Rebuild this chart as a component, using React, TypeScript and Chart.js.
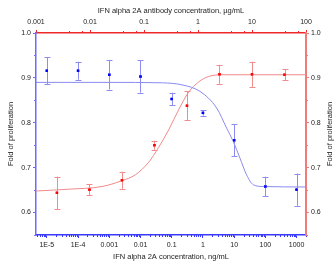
import React, { useEffect, useRef } from "react";
import { Chart, registerables } from "chart.js";

Chart.register(...registerables);

// ---- data (bottom axis: ng/mL, blue) ----
const blueX = [1e-5, 1e-4, 1e-3, 1e-2, 0.1, 1, 10, 100, 1000];
const blueY = [0.916, 0.916, 0.907, 0.903, 0.853, 0.822, 0.761, 0.658, 0.651];
const blueErr = [0.03, 0.02, 0.033, 0.036, 0.014, 0.006, 0.036, 0.022, 0.036];
// fitted curve
const blueCurveX = [4.5e-6, 1e-3, 0.05, 0.23, 0.8, 2.75, 5.75, 9.4, 15.4, 25, 41, 85, 2000];
const blueCurveY = [0.89, 0.89, 0.889, 0.884, 0.87, 0.833, 0.788, 0.758, 0.721, 0.684, 0.662, 0.658, 0.657];

// ---- data (top axis: µg/mL, red) ----
const redX = [0.00244, 0.00977, 0.0391, 0.156, 0.625, 2.5, 10, 40];
const redY = [0.644, 0.651, 0.672, 0.75, 0.838, 0.908, 0.908, 0.907];
const redErr = [0.036, 0.012, 0.019, 0.01, 0.032, 0.021, 0.028, 0.012];
const redCurveX = [0.001, 0.004, 0.0167, 0.039, 0.069, 0.122, 0.186, 0.286, 0.438, 0.67, 1.03, 1.57, 2.78, 100];
const redCurveY = [0.648, 0.652, 0.658, 0.671, 0.684, 0.712, 0.745, 0.784, 0.829, 0.868, 0.891, 0.903, 0.907, 0.907];

// ---- ticks ----
const xTickValues = [1e-5, 1e-4, 1e-3, 1e-2, 0.1, 1, 10, 100, 1000];
const xTickLabels = ["1E-5", "1E-4", "0.001", "0.01", "0.1", "1", "10", "100", "1000"];
const x2TickValues = [0.001, 0.01, 0.1, 1, 10, 100];
const x2TickLabels = ["0.001", "0.01", "0.1", "1", "10", "100"];
const yTickValues = [0.6, 0.7, 0.8, 0.9, 1.0];
const yTickLabels = ["0.6", "0.7", "0.8", "0.9", "1.0"];
const xMinorMult = [2, 3, 4, 5, 6, 7, 8, 9];
const x2MinorMult = [4, 7];
const yMinorTicks = [0.55, 0.65, 0.75, 0.85, 0.95];

const xTitle = "IFN alpha 2A concentration, ng/mL";
const x2Title = "IFN alpha 2A antibody concentration, µg/mL";
const yTitle = "Fold of proliferation";

const FONT = "'Liberation Sans', Arial, sans-serif";
const BLUE_AXIS = "#3a3aff";
const BLUE_LEFT = "#6a6aff";
const RED_TOP = "#ee2a2a";
const RED_RIGHT = "#f47a7a";

const errorBarPlugin = {
  id: "errorBars",
  afterDatasetsDraw(chart: any) {
    const ctx = chart.ctx;
    const ys = chart.scales.y;
    chart.data.datasets.forEach((ds: any, i: number) => {
      if (!ds.errors) return;
      const meta = chart.getDatasetMeta(i);
      ctx.save();
      ctx.strokeStyle = ds.errColor;
      ctx.lineWidth = 1;
      meta.data.forEach((el: any, j: number) => {
        const v = ds.data[j].y;
        const e = ds.errors[j];
        const x = Math.round(el.x) + 0.5;
        const y1 = ys.getPixelForValue(v + e);
        const y2 = ys.getPixelForValue(v - e);
        ctx.beginPath();
        ctx.moveTo(x, y1);
        ctx.lineTo(x, y2);
        ctx.moveTo(x - 3, Math.round(y1) + 0.5);
        ctx.lineTo(x + 3, Math.round(y1) + 0.5);
        ctx.moveTo(x - 3, Math.round(y2) + 0.5);
        ctx.lineTo(x + 3, Math.round(y2) + 0.5);
        ctx.stroke();
      });
      ctx.restore();
      // redraw points on top
      meta.data.forEach((el: any) => el.draw(ctx, chart.chartArea));
    });
  },
};

const minorTicksPlugin = {
  id: "minorTicks",
  afterDraw(chart: any) {
    const ctx = chart.ctx;
    const { top, bottom, left, right } = chart.chartArea;
    const xs = chart.scales.x;
    const x2s = chart.scales.x2;
    const ys = chart.scales.y;
    ctx.save();
    ctx.lineWidth = 1;
    // bottom minor
    ctx.strokeStyle = BLUE_AXIS;
    ctx.beginPath();
    for (let d = -6; d <= 3; d++) {
      xMinorMult.forEach((m) => {
        const v = m * Math.pow(10, d);
        if (v < xs.min || v > xs.max) return;
        const px = Math.round(xs.getPixelForValue(v)) + 0.5;
        ctx.moveTo(px, bottom);
        ctx.lineTo(px, bottom + 2);
      });
    }
    ctx.stroke();
    // top minor
    ctx.strokeStyle = RED_TOP;
    ctx.beginPath();
    for (let d = -3; d <= 2; d++) {
      x2MinorMult.forEach((m) => {
        const v = m * Math.pow(10, d);
        if (v < x2s.min || v > x2s.max) return;
        const px = Math.round(x2s.getPixelForValue(v)) + 0.5;
        ctx.moveTo(px, top);
        ctx.lineTo(px, top - 2);
      });
    }
    ctx.stroke();
    // left/right minor
    ctx.strokeStyle = BLUE_LEFT;
    ctx.beginPath();
    yMinorTicks.forEach((v) => {
      const py = Math.round(ys.getPixelForValue(v)) + 0.5;
      ctx.moveTo(left, py);
      ctx.lineTo(left - 2, py);
    });
    ctx.stroke();
    ctx.strokeStyle = RED_RIGHT;
    ctx.beginPath();
    yMinorTicks.forEach((v) => {
      const py = Math.round(ys.getPixelForValue(v)) + 0.5;
      ctx.moveTo(right, py);
      ctx.lineTo(right + 2, py);
    });
    ctx.stroke();
    // right title
    ctx.fillStyle = "#222";
    ctx.font = `7.5px ${FONT}`;
    ctx.textAlign = "center";
    ctx.textBaseline = "middle";
    ctx.translate(330, (top + bottom) / 2);
    ctx.rotate(-Math.PI / 2);
    ctx.fillText(yTitle, 0, 0);
    ctx.restore();
  },
};

function labelFrom(values: number[], labels: string[]) {
  return (v: any) => {
    const i = values.findIndex((t) => Math.abs(t - v) / t < 1e-6);
    return i >= 0 ? labels[i] : "";
  };
}

export default function App() {
  const ref = useRef<HTMLCanvasElement>(null);
  useEffect(() => {
    if (!ref.current) return;
    const tickFont = { family: FONT, size: 7 };
    const titleFont = { family: FONT, size: 7.5 };
    const chart = new Chart(ref.current, {
      type: "scatter",
      data: {
        datasets: [
          {
            label: "blue curve",
            data: blueCurveX.map((x, i) => ({ x, y: blueCurveY[i] })),
            xAxisID: "x",
            yAxisID: "y",
            showLine: true,
            pointRadius: 0,
            borderColor: "#8a8af0",
            borderWidth: 1,
            cubicInterpolationMode: "monotone",
          } as any,
          {
            label: "red curve",
            data: redCurveX.map((x, i) => ({ x, y: redCurveY[i] })),
            xAxisID: "x2",
            yAxisID: "y",
            showLine: true,
            pointRadius: 0,
            borderColor: "#f08a8a",
            borderWidth: 1,
            cubicInterpolationMode: "monotone",
          } as any,
          {
            label: "blue",
            data: blueX.map((x, i) => ({ x, y: blueY[i] })),
            errors: blueErr,
            errColor: "#8c8cf2",
            xAxisID: "x",
            yAxisID: "y",
            pointStyle: "rect",
            pointRadius: 1.7,
            backgroundColor: "#0000ff",
            borderColor: "#0000ff",
            borderWidth: 0,
          } as any,
          {
            label: "red",
            data: redX.map((x, i) => ({ x, y: redY[i] })),
            errors: redErr,
            errColor: "#f08c8c",
            xAxisID: "x2",
            yAxisID: "y",
            pointStyle: "rect",
            pointRadius: 1.7,
            backgroundColor: "#ff0000",
            borderColor: "#ff0000",
            borderWidth: 0,
          } as any,
        ],
      },
      options: {
        animation: false,
        responsive: false,
        layout: { padding: 0 },
        plugins: { legend: { display: false }, tooltip: { enabled: false } },
        scales: {
          x: {
            type: "logarithmic",
            position: "bottom",
            min: 4.5e-6,
            max: 2000,
            afterBuildTicks: (s: any) => {
              s.ticks = xTickValues.map((value) => ({ value }));
            },
            afterFit: (s: any) => {
              s.height = 31;
            },
            grid: { drawOnChartArea: false, color: BLUE_AXIS, tickLength: 3 },
            border: { color: BLUE_AXIS, width: 1.5 },
            ticks: {
              font: tickFont,
              color: "#222",
              padding: 3,
              maxRotation: 0,
              autoSkip: false,
              callback: labelFrom(xTickValues, xTickLabels),
            },
            title: { display: true, text: xTitle, font: titleFont, color: "#222", padding: { top: 0, bottom: 4.8 } },
          } as any,
          x2: {
            type: "logarithmic",
            position: "top",
            min: 0.001,
            max: 100,
            afterBuildTicks: (s: any) => {
              s.ticks = x2TickValues.map((value) => ({ value }));
            },
            afterFit: (s: any) => {
              s.height = 33;
            },
            grid: { drawOnChartArea: false, color: RED_TOP, tickLength: 3 },
            border: { color: RED_TOP, width: 1.5 },
            ticks: {
              font: tickFont,
              color: "#222",
              padding: 4,
              maxRotation: 0,
              autoSkip: false,
              callback: labelFrom(x2TickValues, x2TickLabels),
            },
            title: { display: true, text: x2Title, font: titleFont, color: "#222", padding: { top: 6.5, bottom: 0 } },
          } as any,
          y: {
            type: "linear",
            position: "left",
            min: 0.55,
            max: 1.0,
            afterBuildTicks: (s: any) => {
              s.ticks = yTickValues.map((value) => ({ value }));
            },
            afterFit: (s: any) => {
              s.width = 36;
            },
            grid: { drawOnChartArea: false, color: BLUE_LEFT, tickLength: 3 },
            border: { color: BLUE_LEFT, width: 1.5 },
            ticks: {
              font: tickFont,
              color: "#222",
              padding: 2,
              callback: labelFrom(yTickValues, yTickLabels),
            },
            title: { display: true, text: yTitle, font: titleFont, color: "#222", padding: { top: 6.5, bottom: 0 } },
          } as any,
          y2: {
            type: "linear",
            position: "right",
            min: 0.55,
            max: 1.0,
            afterBuildTicks: (s: any) => {
              s.ticks = yTickValues.map((value) => ({ value }));
            },
            afterFit: (s: any) => {
              s.width = 30;
            },
            grid: { drawOnChartArea: false, color: RED_RIGHT, tickLength: 3 },
            border: { color: RED_RIGHT, width: 2 },
            ticks: {
              font: tickFont,
              color: "#222",
              padding: 2,
              callback: labelFrom(yTickValues, yTickLabels),
            },
          } as any,
        },
      },
      plugins: [errorBarPlugin, minorTicksPlugin],
    });
    return () => chart.destroy();
  }, []);
  return (
    <div style={{ position: "fixed", left: 0, top: 0, width: 336, height: 266, background: "#fff" }}>
      <canvas ref={ref} width={336} height={266} style={{ display: "block" }} />
    </div>
  );
}
